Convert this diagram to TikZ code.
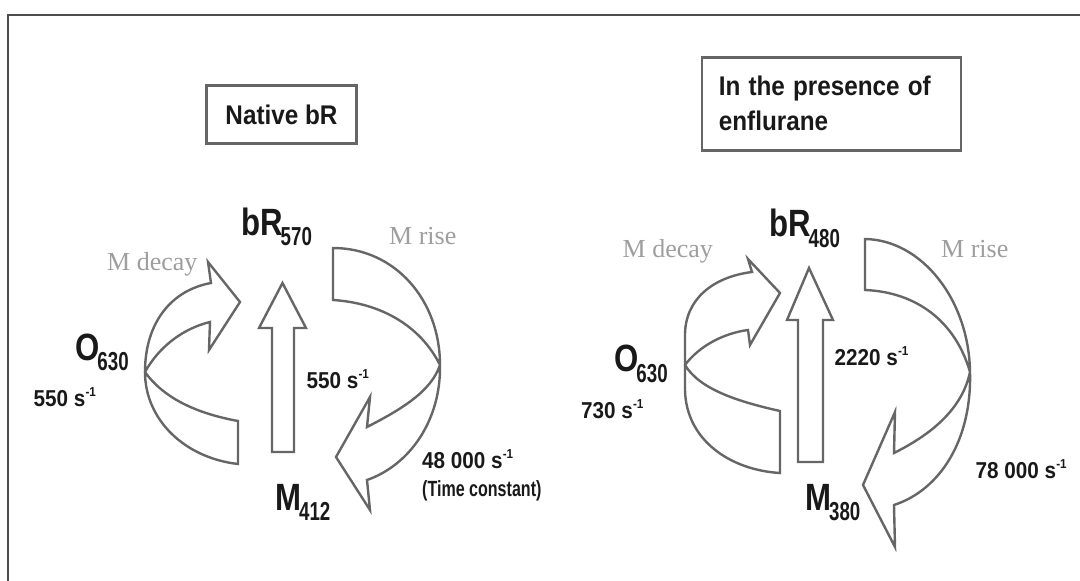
\documentclass[tikz,border=0pt]{standalone}
\usepackage{fontspec}
\setmainfont{Liberation Sans}
\newfontfamily\serifface{Liberation Serif}
\definecolor{outl}{gray}{0.40}
\definecolor{txt}{gray}{0.10}
\definecolor{lbl}{gray}{0.62}
\newcommand\stlab[2]{{\bfseries\fontsize{38}{38}\selectfont\scalebox{0.82}[1]{#1}}\kern-2pt\raisebox{-10.5pt}{\bfseries\fontsize{26}{26}\selectfont\scalebox{0.72}[1]{#2}}}
\newcommand\ratelab[1]{\scalebox{0.9}[1]{\bfseries\fontsize{23}{23}\selectfont #1 s\raisebox{0.42em}{\fontsize{13}{13}\selectfont -1}}}
\tikzset{
  arrowshape/.style={draw=outl, line width=2.4pt, line join=miter, fill=white},
  statelab/.style={inner sep=0pt, anchor=base west, text=txt},
  ratenode/.style={inner sep=0pt, anchor=base west, text=txt},
  greylab/.style={inner sep=0pt, anchor=base west, text=lbl, font=\serifface\fontsize{26}{26}\selectfont},
  titlebox/.style={draw=outl, line width=2.6pt, text=txt, font=\bfseries\fontsize{27}{35}\selectfont},
  frameline/.style={draw=black!70, line width=2.2pt}
}
\begin{document}
\begin{tikzpicture}[x=1pt,y=-1pt]
\useasboundingbox (0,0) rectangle (1080,581);
% frame
\coordinate (fTL) at (8,15);
\coordinate (fTR) at (1080,15);
\coordinate (fBL) at (8,581);
\draw[frameline] (fTR) -- (fTL) -- (fBL);

% ===== left: Native bR =====
\node[titlebox, minimum width=150pt, minimum height=58pt, inner sep=0pt] (boxA) at (281.5,114.5) {\scalebox{0.9}[1]{Native bR}};

% M decay arrow (left)
\draw[arrowshape] (238,421) .. controls (200,414) and (165,400) .. (145,372)
  .. controls (160,345) and (185,328) .. (210,322)
  -- (209,350) -- (240,302) -- (208,262) -- (211,283)
  .. controls (172,290) and (145,322) .. (145,372)
  .. controls (145,420) and (185,458) .. (238,464) -- cycle;
% M rise arrow (left)
\draw[arrowshape] (333,248) .. controls (395,248) and (440,300) .. (440,365)
  .. controls (441,420) and (410,465) .. (367,480)
  -- (370,510) -- (336,457) -- (370,397) -- (367,427)
  .. controls (400,410) and (431,392) .. (440,365)
  .. controls (420,325) and (380,303) .. (333,300) -- cycle;
% up arrow (left)
\draw[arrowshape] (272,452) -- (272,328) -- (259,328) -- (282.5,283) -- (306,328) -- (294,328) -- (294,452) -- cycle;

\node[statelab] (bRa) at (241,235) {\stlab{bR}{570}};
\node[statelab] (Oa) at (75,360) {\stlab{O}{630}};
\node[statelab] (Ma) at (275,510) {\stlab{M}{412}};
\node[greylab] (decA) at (107,270.5) {M decay};
\node[greylab] (riseA) at (389,244) {M rise};
\node[ratenode] (r1) at (33.5,406.5) {\ratelab{550}};
\node[ratenode] (r2) at (306.5,388.5) {\ratelab{550}};
\node[ratenode] (r3) at (422,468.5) {\ratelab{48 000}};
\node[ratenode] (tc) at (422,496) {\scalebox{0.73}[1]{\bfseries\fontsize{22}{22}\selectfont (Time constant)}};

% ===== right: enflurane =====
\node[titlebox, minimum width=259pt, minimum height=93pt, text width=225pt, align=left, inner sep=0pt] (boxB) at (831.3,103.7) {\scalebox{0.9}[1]{In the presence of}\\\scalebox{0.9}[1]{enflurane}};

% M decay arrow (right)
\draw[arrowshape] (780,411) .. controls (740,402) and (700,390) .. (685,365)
  .. controls (700,345) and (725,333) .. (748,330)
  -- (750,345) -- (780,293) -- (748,259) -- (752,272)
  .. controls (712,277) and (685,300) .. (685,335)
  -- (685,390)
  .. controls (686,440) and (730,470) .. (780,473) -- cycle;
% M rise arrow (right)
\draw[arrowshape] (865,239) .. controls (922,240) and (969,300) .. (970,372)
  .. controls (972,440) and (940,490) .. (894,505)
  -- (895,547) -- (863,485) -- (895,412) -- (894,453)
  .. controls (930,435) and (962,410) .. (970,372)
  .. controls (955,320) and (915,292) .. (865,290) -- cycle;
% up arrow (right)
\draw[arrowshape] (798,462) -- (798,320) -- (787,320) -- (809,268) -- (833,320) -- (823,320) -- (823,462) -- cycle;

\node[statelab] (bRb) at (769,236.5) {\stlab{bR}{480}};
\node[statelab] (Ob) at (614,371.5) {\stlab{O}{630}};
\node[statelab] (Mb) at (805,510) {\stlab{M}{380}};
\node[greylab] (decB) at (622.5,257) {M decay};
\node[greylab] (riseB) at (941,257) {M rise};
\node[ratenode] (r4) at (581,418.5) {\ratelab{730}};
\node[ratenode] (r5) at (834.5,365) {\ratelab{2220}};
\node[ratenode] (r6) at (975.5,478.5) {\ratelab{78 000}};
\end{tikzpicture}
\end{document}
